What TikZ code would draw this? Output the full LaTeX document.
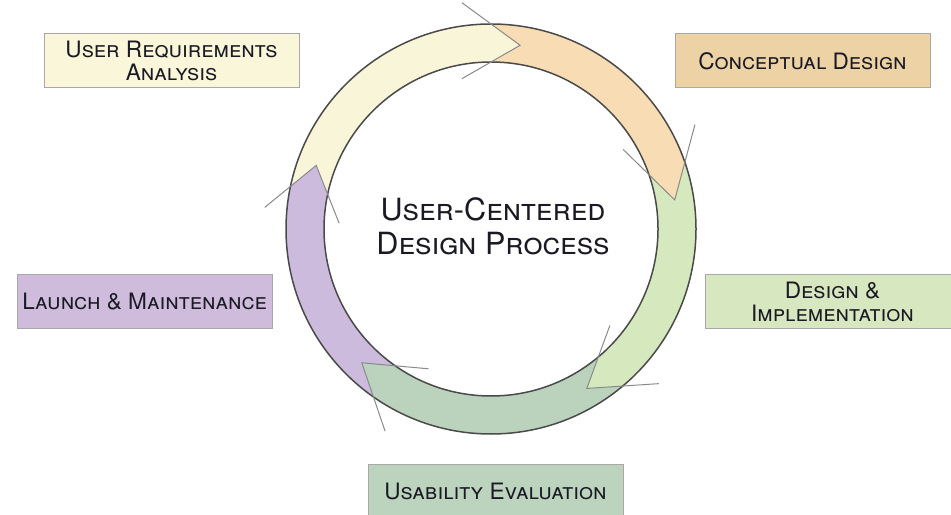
\documentclass[tikz,border=0pt]{standalone}
\usepackage{fontspec}
\setmainfont{TeX Gyre Heros}
\usetikzlibrary{calc}

\definecolor{reqring}{HTML}{F8F5D8}
\definecolor{conring}{HTML}{F8DDB4}
\definecolor{impring}{HTML}{D6E8BE}
\definecolor{usering}{HTML}{BBD2BD}
\definecolor{laussring}{HTML}{CDBBDE}
\definecolor{reqbox}{HTML}{FAF6DA}
\definecolor{conbox}{HTML}{EDD2A6}
\definecolor{impbox}{HTML}{D7E8C0}
\definecolor{usebox}{HTML}{BCD3BE}
\definecolor{laubox}{HTML}{CFBCDD}
\definecolor{boxline}{HTML}{A8A8A8}
\definecolor{ringline}{HTML}{4A4A4A}
\definecolor{seamgray}{HTML}{8A8A8A}
\definecolor{labeltext}{HTML}{1A1A24}

\begin{document}
\begin{tikzpicture}[x=0.5pt,y=0.5pt
		,box/.style={draw=boxline, line width=0.5pt, minimum width=127.5pt, minimum height=27pt, inner sep=0pt, align=center, text=labeltext, font=\fontsize{11.3}{11.5}\selectfont\scshape}
		,ring/.style={draw=ringline, line width=0.75pt}
		,seam/.style={draw=seamgray, line width=0.5pt}
	]
	\useasboundingbox (0,0) rectangle (951,514);

	\coordinate (ctr) at (491,285);
	% arrow heads: outer corner, inner corner, tip
	\coordinate (reqO) at ($(ctr)+(90:205)$);
	\coordinate (reqI) at ($(ctr)+(90:167)$);
	\coordinate (reqT) at ($(ctr)+(81:186)$);
	\coordinate (conO) at ($(ctr)+(19:205)$);
	\coordinate (conI) at ($(ctr)+(19:167)$);
	\coordinate (conT) at ($(ctr)+(9:186)$);
	\coordinate (impO) at ($(ctr)+(-50:205)$);
	\coordinate (impI) at ($(ctr)+(-50:167)$);
	\coordinate (impT) at ($(ctr)+(-59:186)$);
	\coordinate (useO) at ($(ctr)+(235:205)$);
	\coordinate (useI) at ($(ctr)+(235:167)$);
	\coordinate (useT) at ($(ctr)+(226:186)$);
	\coordinate (lauO) at ($(ctr)+(168:205)$);
	\coordinate (lauI) at ($(ctr)+(168:167)$);
	\coordinate (lauT) at ($(ctr)+(160:186)$);

	\fill[reqring] (lauO) arc[start angle=168, end angle=90, radius=205] -- (reqT)
		-- (reqI) arc[start angle=90, end angle=168, radius=167] -- (lauT) -- cycle;
	\fill[conring] (reqO) arc[start angle=90, end angle=19, radius=205] -- (conT)
		-- (conI) arc[start angle=19, end angle=90, radius=167] -- (reqT) -- cycle;
	\fill[impring] (conO) arc[start angle=19, end angle=-50, radius=205] -- (impT)
		-- (impI) arc[start angle=-50, end angle=19, radius=167] -- (conT) -- cycle;
	\fill[usering] (impO) arc[start angle=310, end angle=235, radius=205] -- (useT)
		-- (useI) arc[start angle=235, end angle=310, radius=167] -- (impT) -- cycle;
	\fill[laussring] (useO) arc[start angle=235, end angle=168, radius=205] -- (lauT)
		-- (lauI) arc[start angle=168, end angle=235, radius=167] -- (useT) -- cycle;

	\draw[ring] (ctr) circle[radius=205] (ctr) circle[radius=167];

	\draw[seam] ($(reqT)!2!(reqO)$) -- (reqT) -- ($(reqT)!2!(reqI)$);
	\draw[seam] ($(conT)!2!(conO)$) -- (conT) -- ($(conT)!2!(conI)$);
	\draw[seam] ($(impT)!2!(impO)$) -- (impT) -- ($(impT)!2!(impI)$);
	\draw[seam] ($(useT)!2!(useO)$) -- (useT) -- ($(useT)!2!(useI)$);
	\draw[seam] ($(lauT)!2!(lauO)$) -- (lauT) -- ($(lauT)!2!(lauI)$);

	\node[align=center, text=labeltext, font=\fontsize{15.3}{17}\selectfont\scshape] (title) at ($(ctr)+(2,3)$) {User-Centered\\Design Process};

	\node[box, fill=reqbox] (req) at (171.5,453) {User Requirements\\Analysis};
	\node[box, fill=conbox] (con) at (802.5,453) {Conceptual Design};
	\node[box, fill=impbox] (imp) at (832.5,212.5) {Design \&\\Implementation};
	\node[box, fill=usebox] (use) at (495.5,23) {Usability Evaluation};
	\node[box, fill=laubox] (lau) at (144.5,212.5) {Launch \& Maintenance};
\end{tikzpicture}
\end{document}
